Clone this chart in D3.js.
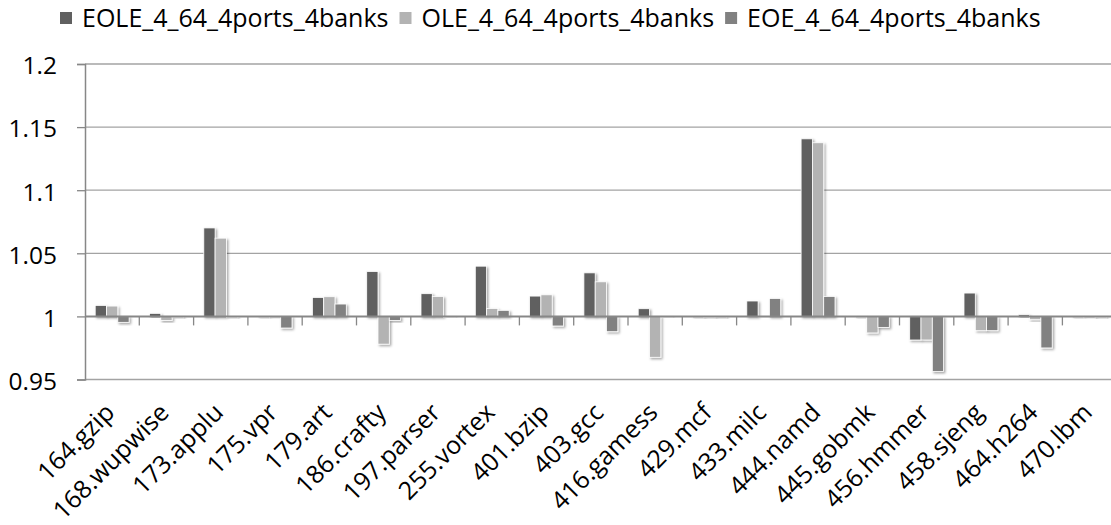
<!DOCTYPE html>
<html>
<head>
<meta charset="utf-8">
<script src="https://cdn.jsdelivr.net/npm/d3@7"></script>
<style>
  body { margin: 0; background: #fff; }
  text { font-family: "Open Sans", "DejaVu Sans", sans-serif; fill: #000; }
</style>
</head>
<body>
<script>
const categories = ['164.gzip', '168.wupwise', '173.applu', '175.vpr', '179.art', '186.crafty',
    '197.parser', '255.vortex', '401.bzip', '403.gcc', '416.gamess', '429.mcf', '433.milc',
    '444.namd', '445.gobmk', '456.hmmer', '458.sjeng', '464.h264', '470.lbm'];
const seriesNames = ['EOLE_4_64_4ports_4banks', 'OLE_4_64_4ports_4banks', 'EOE_4_64_4ports_4banks'];
const eole = [1.0087, 1.0024, 1.0701, 0.9990, 1.0150, 1.0356, 1.0180, 1.0398, 1.0161, 1.0345,
    1.0061, 0.9990, 1.0122, 1.1407, 0.9990, 0.9813, 1.0185, 1.0013, 0.9990];
const ole = [1.0082, 0.9968, 1.0620, 0.9988, 1.0156, 0.9780, 1.0158, 1.0063, 1.0171, 1.0274,
    0.9676, 0.9990, 0.9996, 1.1376, 0.9869, 0.9813, 0.9887, 0.9974, 0.9988];
const eoe = [0.9953, 0.9990, 0.9990, 0.9908, 1.0098, 0.9968, 0.9992, 1.0048, 0.9924, 0.9879,
    0.9992, 0.9990, 1.0142, 1.0158, 0.9913, 0.9563, 0.9887, 0.9750, 0.9990];
const yTicks = [0.95, 1, 1.05, 1.1, 1.15, 1.2];
const colors = ['#606060', '#b3b3b3', '#818181'];

const width = 1111;
const height = 525;
const plotLeft = 85;
const plotTop = 64;
const plotBottom = 379.5;
const catWidth = 54.3;

const series = [eole, ole, eoe];

const svg = d3.select('body')
    .append('svg')
    .attr('width', width)
    .attr('height', height);

const defs = svg.append('defs');
const shadow = defs.append('filter')
    .attr('id', 'shadow')
    .attr('x', '-50%').attr('y', '-50%')
    .attr('width', '200%').attr('height', '200%');
shadow.append('feDropShadow')
    .attr('dx', 1.5)
    .attr('dy', 1.5)
    .attr('stdDeviation', 1.2)
    .attr('flood-color', '#000')
    .attr('flood-opacity', 0.35);

const x0 = d3.scaleBand()
    .domain(categories)
    .range([plotLeft, plotLeft + catWidth * categories.length])
    .padding(0);

const x1 = d3.scaleBand()
    .domain(d3.range(series.length))
    .range([10.2, catWidth - 10.2])
    .padding(0);

const y = d3.scaleLinear()
    .domain([0.95, 1.2])
    .range([plotBottom, plotTop]);

// gridlines
svg.append('g')
    .selectAll('line')
    .data(yTicks)
    .join('line')
    .attr('x1', plotLeft)
    .attr('x2', width)
    .attr('y1', d => y(d))
    .attr('y2', d => y(d))
    .attr('stroke', d => d === 1 ? 'none' : '#a3a3a3')
    .attr('stroke-width', 1.3);

// y axis
const yAxis = svg.append('g')
    .attr('transform', `translate(${plotLeft},0)`)
    .call(d3.axisLeft(y).tickValues(yTicks).tickSize(8).tickPadding(20)
        .tickFormat(d => d3.format('')(+d.toFixed(2))));
yAxis.select('.domain').attr('stroke', '#878787').attr('stroke-width', 1.5);
yAxis.selectAll('.tick line').attr('stroke', '#878787').attr('stroke-width', 1.3);
yAxis.selectAll('.tick text')
    .attr('font-size', 24.5)
    .attr('font-family', '"Open Sans", sans-serif')
    .attr('fill', '#000')
    .attr('dy', '0.4em');

// bars
const rows = categories.map((c, i) => ({ cat: c, vals: series.map(s => s[i]) }));

svg.append('g')
    .selectAll('g')
    .data(rows)
    .join('g')
    .attr('transform', d => `translate(${x0(d.cat)},0)`)
    .selectAll('rect')
    .data(d => d.vals.map((v, k) => ({ k, v })))
    .join('rect')
    .attr('x', d => x1(d.k))
    .attr('width', x1.bandwidth())
    .attr('y', d => Math.min(y(d.v), y(1)))
    .attr('height', d => Math.abs(y(d.v) - y(1)))
    .attr('fill', d => colors[d.k])
    .attr('stroke', '#fff')
    .attr('stroke-width', 0.8)
    .attr('filter', 'url(#shadow)');

// category axis at 1
const xAxis = svg.append('g')
    .attr('transform', `translate(0,${y(1)})`);
xAxis.append('line')
    .attr('x1', plotLeft)
    .attr('x2', width)
    .attr('stroke', '#878787')
    .attr('stroke-width', 2);
xAxis.selectAll('.tk')
    .data(categories)
    .join('line')
    .attr('class', 'tk')
    .attr('x1', d => x0(d) + catWidth)
    .attr('x2', d => x0(d) + catWidth)
    .attr('y1', 0)
    .attr('y2', 9)
    .attr('stroke', '#878787')
    .attr('stroke-width', 1.3);

// category labels
svg.append('g')
    .selectAll('text')
    .data(categories)
    .join('text')
    .attr('transform', d => `translate(${x0(d) + catWidth / 2 + 4},414) rotate(-45)`)
    .attr('text-anchor', 'end')
    .attr('font-size', 25)
    .text(d => d);

// legend
const legend = svg.append('g');
let lx = 60;
seriesNames.forEach((name, k) => {
    legend.append('rect')
        .attr('x', lx)
        .attr('y', 12)
        .attr('width', 12)
        .attr('height', 12)
        .attr('fill', colors[k]);
    const t = legend.append('text')
        .attr('x', lx + 22)
        .attr('y', 27)
        .attr('font-size', 25)
        .text(name);
    lx += 22 + t.node().getComputedTextLength() + 11;
});
</script>
</body>
</html>
